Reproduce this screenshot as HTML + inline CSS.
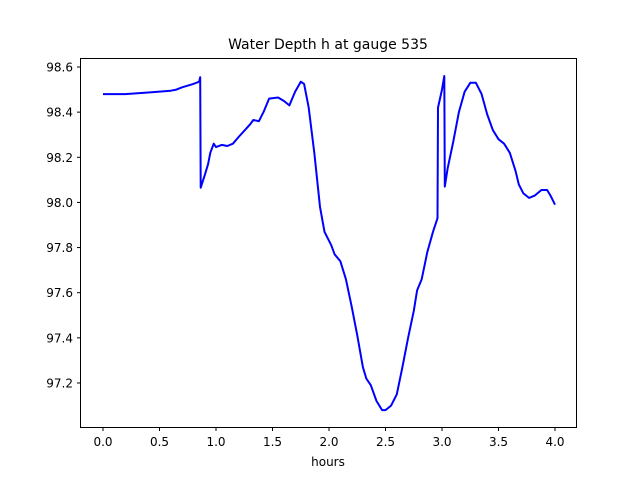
<!DOCTYPE html>
<html><head><meta charset="utf-8"><style>
body{margin:0;background:#fff;}
svg{display:block;font-family:"DejaVu Sans","Liberation Sans",sans-serif;}
</style></head><body>
<svg id="chart" width="640" height="480">
<rect width="640" height="480" fill="#fff"/>
<text x="328" y="49" text-anchor="middle" font-size="14">Water Depth h at gauge 535</text>
<text x="328" y="466" text-anchor="middle" font-size="12">hours</text>
<g id="ticks"></g>
<path id="line" fill="none" stroke="#0000ff" stroke-width="2" stroke-linejoin="round"/>
<rect x="80.5" y="58.5" width="496" height="369" fill="none" stroke="#000" stroke-width="1"/>
</svg>
<script>
const hours=[0,0.2,0.4,0.6,0.65,0.7,0.8,0.85,0.86,0.865,0.9,0.93,0.95,0.98,1.0,1.05,1.1,1.15,1.2,1.3,1.33,1.38,1.42,1.47,1.55,1.6,1.65,1.7,1.75,1.78,1.82,1.87,1.92,1.96,2.02,2.05,2.1,2.15,2.2,2.25,2.3,2.33,2.37,2.42,2.47,2.5,2.55,2.6,2.65,2.7,2.75,2.78,2.82,2.87,2.92,2.96,2.965,3.0,3.02,3.025,3.05,3.1,3.15,3.2,3.25,3.3,3.35,3.4,3.45,3.5,3.55,3.6,3.65,3.68,3.72,3.77,3.82,3.88,3.93,3.96,4.0];
const depth=[98.48,98.48,98.487,98.495,98.5,98.51,98.525,98.535,98.555,98.065,98.12,98.17,98.22,98.26,98.245,98.255,98.25,98.26,98.29,98.345,98.365,98.36,98.4,98.46,98.465,98.45,98.43,98.49,98.535,98.525,98.42,98.22,97.98,97.87,97.81,97.77,97.74,97.66,97.54,97.41,97.27,97.22,97.19,97.12,97.08,97.08,97.1,97.15,97.27,97.4,97.52,97.61,97.66,97.78,97.87,97.93,98.42,98.5,98.56,98.07,98.15,98.27,98.4,98.49,98.53,98.53,98.48,98.39,98.32,98.28,98.26,98.22,98.14,98.08,98.04,98.02,98.03,98.055,98.055,98.03,97.99];
const xTicks=[0,0.5,1,1.5,2,2.5,3,3.5,4];
const yTicks=[97.2,97.4,97.6,97.8,98.0,98.2,98.4,98.6];
const NS="http://www.w3.org/2000/svg";
function xs(v){return 103+v*113;}
function ys(v){return 67+(98.6-v)/0.2*45.14;}
const g=document.getElementById('ticks');
xTicks.forEach(t=>{
  const l=document.createElementNS(NS,'line');
  
  
  l.setAttribute('x1',xs(t));l.setAttribute('x2',xs(t));l.setAttribute('y1',427.5);l.setAttribute('y2',431);l.setAttribute('stroke','#000');
  g.appendChild(l);
  const tx=document.createElementNS(NS,'text');
  
  
  tx.setAttribute('x',xs(t));tx.setAttribute('y',446);tx.setAttribute('text-anchor','middle');tx.setAttribute('font-size','12');
  tx.textContent=t.toFixed(1);g.appendChild(tx);
});
yTicks.forEach(t=>{
  const l=document.createElementNS(NS,'line');
  
  
  l.setAttribute('x1',77);l.setAttribute('x2',80.5);l.setAttribute('y1',ys(t));l.setAttribute('y2',ys(t));l.setAttribute('stroke','#000');
  g.appendChild(l);
  const tx=document.createElementNS(NS,'text');
  
  
  tx.setAttribute('x',73);tx.setAttribute('y',ys(t)+4.5);tx.setAttribute('text-anchor','end');tx.setAttribute('font-size','12');
  tx.textContent=t.toFixed(1);g.appendChild(tx);
});
document.getElementById('line').setAttribute('d',hours.map((h,i)=>(i?'L':'M')+xs(h).toFixed(1)+' '+ys(depth[i]).toFixed(1)).join(' '));
</script>
</body></html>
